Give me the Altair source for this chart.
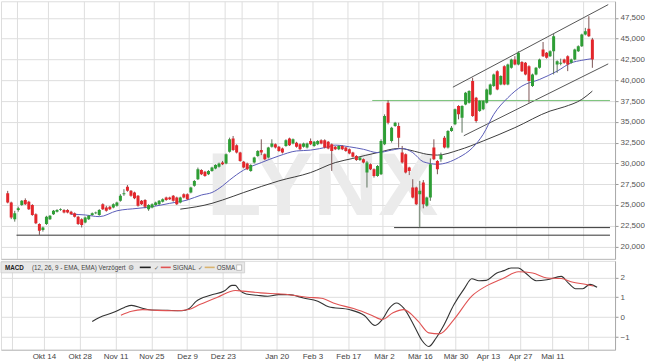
import json
import altair as alt
import pandas as pd

# ---------------- data ----------------
opens = [26.4, 25.3, 23.3, 24.4, 25.0, 25.6, 25.4, 25.0, 23.9, 22.7,
         22.0, 22.7, 23.3, 23.9, 24.2, 24.4, 24.4, 24.4, 24.2, 24.0,
         23.6, 23.3, 22.9, 23.3, 23.8, 24.0, 23.8, 25.1, 24.7, 24.8,
         24.7, 24.9, 25.5, 26.3, 27.2, 26.7, 26.5, 26.1, 25.5, 25.6,
         24.5, 24.7, 25.0, 25.1, 25.4, 25.9, 25.9, 26.1, 25.9, 25.3,
         26.3, 26.3, 26.5, 27.3, 28.1, 29.2, 29.0, 28.7, 29.1, 29.4,
         29.6, 30.1, 30.0, 31.4, 33.0, 32.2, 31.3, 30.2, 30.0, 29.1,
         30.1, 30.9, 31.6, 31.1, 30.7, 32.0, 32.3, 32.0, 31.8, 32.1,
         33.0, 32.4, 32.5, 32.3, 32.0, 31.9, 32.7, 32.1, 32.3, 32.8,
         32.8, 32.6, 32.3, 32.0, 31.7, 32.1, 31.9, 31.7, 31.3, 30.9,
         30.4, 30.5, 28.9, 29.9, 29.3, 28.5, 28.7, 32.3, 37.3, 32.7,
         34.5, 34.5, 31.3, 31.1, 29.5, 27.1, 27.1, 26.3, 27.7, 24.9,
         25.9, 31.9, 30.3, 30.5, 33.1, 31.9, 33.9, 34.7, 36.9, 35.5,
         37.1, 37.3, 39.9, 37.9, 36.3, 36.5, 37.3, 38.3, 39.3, 41.1,
         39.5, 41.7, 39.5, 41.5, 42.5, 41.9, 42.2, 42.1, 41.7, 39.3,
         40.7, 41.5, 43.7, 43.3, 42.9, 43.5, 41.9, 42.0, 42.5, 42.9,
         42.1, 42.5, 43.5, 44.1, 45.5, 46.2, 44.9]
closes = [25.3, 23.5, 24.0, 24.6, 25.5, 25.1, 24.5, 23.8, 22.8, 21.9,
          22.3, 23.6, 23.7, 24.3, 24.4, 24.5, 24.1, 24.1, 23.9, 23.6,
          22.7, 22.6, 23.5, 23.7, 24.0, 24.1, 24.4, 24.5, 24.3, 24.5,
          25.1, 25.3, 26.1, 26.4, 26.7, 26.1, 25.8, 24.9, 25.1, 24.8,
          25.0, 25.1, 25.3, 25.5, 25.7, 25.6, 25.7, 25.5, 25.1, 25.9,
          25.9, 25.7, 27.1, 27.9, 29.3, 28.7, 28.5, 29.1, 29.5, 29.8,
          30.0, 29.9, 31.1, 32.9, 31.6, 31.3, 30.3, 29.5, 29.3, 29.8,
          30.7, 31.5, 31.3, 30.5, 31.9, 32.4, 31.9, 31.5, 31.3, 32.8,
          32.2, 32.9, 32.0, 31.7, 32.4, 32.4, 32.3, 32.6, 32.7, 32.4,
          31.9, 31.8, 31.5, 31.7, 32.1, 31.7, 31.5, 31.2, 30.8, 30.4,
          30.7, 30.1, 30.1, 29.3, 28.5, 29.7, 32.7, 35.7, 34.9, 34.3,
          34.9, 33.1, 30.1, 28.9, 29.1, 25.9, 25.1, 26.7, 25.1, 25.9,
          29.9, 30.5, 29.3, 31.0, 31.9, 33.9, 34.3, 36.5, 35.9, 36.9,
          38.5, 38.7, 35.7, 35.1, 37.5, 37.5, 38.9, 39.5, 40.7, 38.9,
          40.5, 39.5, 41.9, 42.5, 41.9, 43.3, 41.1, 40.7, 39.9, 40.7,
          41.5, 42.5, 42.9, 42.7, 43.5, 45.3, 42.3, 42.1, 42.1, 41.9,
          42.5, 43.7, 44.1, 45.5, 45.9, 45.3, 42.5]
highs = [26.7, 25.4, 24.3, 24.8, 25.6, 25.8, 25.5, 25.1, 24.0, 22.8,
         22.4, 23.7, 23.8, 24.4, 24.5, 24.6, 24.5, 24.5, 24.3, 24.1,
         23.7, 23.4, 23.6, 23.8, 24.1, 24.2, 24.5, 25.2, 24.9, 24.9,
         25.2, 25.4, 26.3, 26.9, 27.4, 26.8, 26.6, 26.2, 25.6, 25.7,
         25.1, 25.2, 25.4, 25.6, 25.8, 26.0, 26.0, 26.2, 26.0, 26.0,
         26.4, 26.4, 27.2, 28.0, 29.5, 29.3, 29.1, 29.2, 29.6, 29.9,
         30.1, 30.3, 31.2, 33.1, 33.3, 32.3, 31.4, 30.3, 30.1, 29.9,
         30.8, 31.6, 32.9, 31.2, 32.0, 32.9, 32.4, 32.1, 31.9, 32.9,
         33.1, 33.0, 32.6, 32.4, 32.5, 32.5, 33.0, 32.7, 32.8, 32.9,
         32.9, 32.7, 32.4, 32.1, 32.2, 32.2, 32.0, 31.8, 31.4, 31.0,
         30.8, 30.6, 30.3, 30.0, 29.4, 29.8, 32.9, 35.9, 37.6, 34.4,
         35.0, 34.9, 32.1, 31.2, 29.6, 28.1, 27.2, 27.9, 28.0, 26.0,
         30.6, 32.9, 30.4, 31.3, 33.3, 34.0, 34.5, 36.6, 37.0, 37.0,
         38.6, 38.8, 40.3, 38.0, 37.6, 37.6, 39.0, 39.6, 40.8, 41.2,
         40.6, 41.8, 42.0, 42.6, 42.9, 43.5, 42.3, 42.2, 41.8, 40.8,
         41.6, 42.6, 44.6, 43.4, 43.6, 45.6, 42.4, 42.6, 42.6, 43.0,
         42.6, 43.8, 44.2, 45.6, 46.3, 47.7, 45.1]
lows = [25.2, 23.3, 23.0, 24.2, 24.9, 25.0, 24.4, 23.7, 22.7, 21.4,
        21.8, 22.6, 23.2, 23.8, 24.1, 24.3, 24.0, 24.0, 23.8, 23.5,
        22.6, 22.3, 22.8, 23.2, 23.7, 23.9, 23.7, 24.4, 24.2, 24.4,
        24.6, 24.8, 25.4, 26.1, 26.6, 26.0, 25.7, 24.8, 25.0, 24.6,
        24.3, 24.6, 24.9, 25.0, 25.3, 25.5, 25.6, 25.4, 25.0, 25.2,
        25.8, 25.6, 26.4, 27.2, 28.0, 28.6, 28.4, 28.6, 29.0, 29.3,
        29.5, 29.8, 29.9, 31.3, 31.5, 31.2, 30.2, 29.4, 29.2, 29.0,
        30.0, 30.8, 31.0, 30.4, 30.6, 31.9, 31.8, 31.4, 31.2, 32.0,
        32.1, 32.3, 31.9, 31.6, 31.9, 31.8, 32.2, 32.0, 32.2, 32.3,
        31.8, 31.7, 29.1, 31.6, 31.6, 31.6, 31.4, 31.1, 30.7, 30.3,
        30.3, 30.0, 27.1, 29.2, 28.3, 28.4, 28.6, 32.2, 34.7, 32.5,
        34.4, 31.9, 30.0, 28.8, 28.6, 25.8, 25.0, 22.3, 24.6, 24.8,
        25.5, 30.4, 28.7, 30.2, 31.8, 31.8, 33.8, 34.6, 35.3, 33.7,
        37.0, 37.2, 35.6, 34.9, 36.2, 36.4, 37.2, 38.2, 39.2, 38.8,
        39.4, 39.4, 39.4, 41.4, 41.8, 41.8, 41.0, 40.6, 37.3, 39.2,
        40.6, 41.4, 42.8, 42.6, 42.8, 40.7, 40.9, 41.8, 42.0, 41.1,
        42.0, 42.4, 43.4, 44.0, 45.4, 45.2, 41.5]

# moving averages (candle index, value)
ma_fast_k = [18, 22, 26, 31, 37, 41, 46, 51, 55, 58, 61, 63, 67, 72, 77, 82, 86, 91, 93, 97,
             101, 105, 109, 112, 115, 118, 122, 128, 132, 135, 138, 142, 146, 151, 156, 160, 163, 166]
ma_fast_v = [23.9, 23.8, 23.6, 24.3, 24.6, 24.8, 25.2, 25.6, 26.2, 26.5, 27.3, 28.0, 29.2, 30.1, 30.9,
             31.5, 31.6, 32.0, 32.2, 32.0, 31.7, 31.3, 31.6, 31.8, 31.3, 30.2, 29.9, 30.7, 31.9, 33.5,
             35.9, 37.9, 39.3, 40.1, 41.1, 42.1, 42.4, 42.6]
ma_slow_k = [49, 58, 61, 67, 77, 86, 93, 98, 105, 111, 117, 119, 122, 128, 135, 144, 154, 158, 163, 166]
ma_slow_v = [24.5, 25.2, 25.6, 26.5, 27.9, 28.9, 30.1, 30.6, 31.3, 31.8, 31.3, 31.1, 31.0, 31.6,
             32.7, 34.3, 36.3, 36.8, 37.7, 38.7]

# MACD panel
macd_k = [25, 27, 31, 34, 36, 39, 41, 46, 50, 52, 54, 58, 62, 64, 65, 66, 68, 71, 74, 77, 80, 84,
          88, 91, 97, 101, 104, 106, 108, 110, 112, 115, 117, 119, 121, 123, 126, 129, 131, 133,
          135, 138, 140, 142, 144, 146, 149, 152, 156, 158, 160, 162, 164, 166]
macd_v = [-0.22, -0.02, 0.24, 0.49, 0.59, 0.45, 0.37, 0.34, 0.32, 0.42, 0.79, 1.1, 1.33, 1.6, 1.6,
          1.38, 1.16, 1.1, 1.05, 1.13, 1.13, 0.96, 0.8, 0.52, 0.37, 0.08, -0.42, -0.13, 0.45, 0.71,
          0.45, -0.47, -1.15, -1.48, -1.06, -0.47, 0.62, 1.46, 1.93, 1.83, 1.85, 2.22, 2.34, 2.47,
          2.47, 2.22, 1.83, 1.88, 2.05, 1.71, 1.43, 1.43, 1.65, 1.5]
signal_k = [33, 36, 39, 43, 48, 52, 55, 60, 65, 67, 72, 77, 80, 85, 89, 93, 98, 103, 106, 109, 112,
            116, 119, 122, 126, 131, 135, 140, 144, 148, 152, 156, 159, 163, 165]
signal_v = [0.1, 0.3, 0.38, 0.34, 0.32, 0.38, 0.63, 1.0, 1.34, 1.31, 1.22, 1.17, 1.13, 1.0, 0.95,
            0.67, 0.43, 0.1, -0.12, 0.22, 0.38, -0.2, -0.79, -0.84, -0.12, 1.06, 1.56, 1.97, 2.28,
            2.22, 1.97, 1.94, 1.77, 1.64, 1.56]

# drawn lines: (id, colour, start k, start value, end k, end value)
drawn_id = ["upper", "lower", "sup1", "sup2", "res"]
drawn_col = ["#555555", "#555555", "#333333", "#333333", "#7cc47c"]
drawn_k0 = [126.4, 129.5, 2.5, 109.7, 103.5]
drawn_v0 = [39.17, 33.33, 21.37, 22.28, 37.57]
drawn_k1 = [170.5, 170.5, 171.0, 171.0, 171.0]
drawn_v1 = [49.1, 41.97, 21.37, 22.28, 37.57]

# axes
tick_k = [2.5, 11.5, 21.5, 31.5, 41.5, 51.5, 61.5, 66.5, 76.5, 86.5, 96.5, 106.5, 116.5,
          126.5, 135.5, 144.5, 153.5, 163.5]
tick_labels = ["", "Okt 14", "Okt 28", "Nov 11", "Nov 25", "Dez 9", "Dez 23", "", "Jan 20",
               "Feb 3", "Feb 17", "Mär 2", "Mär 16", "Mär 30", "Apr 13", "Apr 27", "Mai 11", ""]
price_ticks = [20, 22.5, 25, 27.5, 30, 32.5, 35, 37.5, 40, 42.5, 45, 47.5]
macd_ticks = [-1, 0, 1, 2]

# ---------------- tables ----------------
candles = pd.DataFrame({"k": list(range(len(opens))), "open": opens, "high": highs,
                        "low": lows, "close": closes})
ma_fast = pd.DataFrame({"k": ma_fast_k, "v": ma_fast_v})
ma_slow = pd.DataFrame({"k": ma_slow_k, "v": ma_slow_v})
macd = pd.DataFrame({"k": macd_k, "v": macd_v})
signal = pd.DataFrame({"k": signal_k, "v": signal_v})
rows = []
for i in range(len(drawn_id)):
    rows.append({"id": drawn_id[i], "col": drawn_col[i], "k": drawn_k0[i], "v": drawn_v0[i]})
    rows.append({"id": drawn_id[i], "col": drawn_col[i], "k": drawn_k1[i], "v": drawn_v1[i]})
drawn = pd.DataFrame(rows)
one = pd.DataFrame({"a": [0]})

W = 615
X_DOM = [-0.484, 171.02]
xs = alt.Scale(domain=X_DOM, nice=False, zero=False)
ys = alt.Scale(domain=[18.52, 49.5], nice=False, zero=False)
ms = alt.Scale(domain=[-1.64, 2.83], nice=False, zero=False)

GRID = "#dedede"
FONT = "Liberation Sans"
label_expr = "%s[indexof(%s, datum.value)]" % (json.dumps(tick_labels, ensure_ascii=False),
                                                json.dumps(tick_k))

top_x_axis = alt.Axis(values=tick_k, labels=False, ticks=False, grid=True, gridColor=GRID,
                      domain=True, domainColor="#bdbdbd", title=None)
top_y_axis = alt.Axis(orient="right", values=price_ticks, grid=True, gridColor=GRID,
                      labelExpr="replace(format(datum.value, ',.3f'), '.', ',')",
                      labelOverlap=False, tickSize=3, tickColor="#999999",
                      domainColor="#aaaaaa", labelFontSize=8, labelColor="#555555",
                      labelPadding=2, title=None)

X = alt.X("k:Q", scale=xs, axis=top_x_axis, title=None)


def Y(field):
    return alt.Y(field, scale=ys, axis=top_y_axis, title=None)


watermark = alt.Chart(one).mark_text(
    text="LYNX", fontSize=90, fontWeight="bold", color="#ebebeb", font=FONT,
    align="center", baseline="alphabetic"
).encode(x=alt.value(322), y=alt.value(214))

drawn_lines = alt.Chart(drawn).mark_line(strokeWidth=1, clip=True).encode(
    x=X, y=Y("v:Q"), detail="id:N", color=alt.Color("col:N", scale=None))

fast_line = alt.Chart(ma_fast).mark_line(color="#5a5cb8", strokeWidth=1.0,
                                         interpolate="monotone").encode(x=X, y=Y("v:Q"))
slow_line = alt.Chart(ma_slow).mark_line(color="#3d3d3d", strokeWidth=1.0,
                                         interpolate="monotone").encode(x=X, y=Y("v:Q"))

up_cond = "datum.open <= datum.close"
wicks = alt.Chart(candles).mark_rule(strokeWidth=1, clip=True).encode(
    x=X, y=Y("low:Q"), y2="high:Q",
    color=alt.condition(up_cond, alt.value("#5d735d"), alt.value("#7d5555")))
bodies = alt.Chart(candles).mark_bar(size=3, clip=True).encode(
    x=X, y=Y("open:Q"), y2="close:Q",
    color=alt.condition(up_cond, alt.value("#2e9e35"), alt.value("#e3262b")))

top = alt.layer(watermark, drawn_lines, slow_line, fast_line, wicks, bodies
                ).properties(width=W, height=258)

# ---------------- MACD panel ----------------
bot_x_axis = alt.Axis(values=tick_k, labelExpr=label_expr, grid=True, gridColor=GRID,
                      ticks=False, domain=True, domainColor="#bdbdbd", labelFontSize=8,
                      labelColor="#444444", labelPadding=3, labelOverlap=False, title=None)
bot_y_axis = alt.Axis(orient="right", values=macd_ticks, format="d", grid=True, gridColor=GRID,
                      labelOverlap=False, tickSize=3, tickColor="#999999",
                      domainColor="#aaaaaa", labelFontSize=8, labelColor="#555555",
                      labelPadding=2, title=None)
XB = alt.X("k:Q", scale=xs, axis=bot_x_axis, title=None)
YB = alt.Y("v:Q", scale=ms, axis=bot_y_axis, title=None)

macd_line = alt.Chart(macd).mark_line(color="#333333", strokeWidth=1.1,
                                      interpolate="monotone").encode(x=XB, y=YB)
signal_line = alt.Chart(signal).mark_line(color="#e05353", strokeWidth=1.1,
                                          interpolate="monotone").encode(x=XB, y=YB)

legend_box = alt.Chart(one).mark_rect(fill="#e8e8e8", stroke="#cccccc", strokeWidth=0.8).encode(
    x=alt.value(0), x2=alt.value(244), y=alt.value(1), y2=alt.value(12))


def legend_text(txt, x, bold=False, color="#333333", size=6.3):
    return alt.Chart(one).mark_text(text=txt, fontSize=size, font=FONT,
                                    fontWeight="bold" if bold else "normal", color=color,
                                    align="left", baseline="middle").encode(
        x=alt.value(x), y=alt.value(6.8))


def legend_rule(x0, x1, color, w=1.6):
    return alt.Chart(one).mark_rule(color=color, strokeWidth=w).encode(
        x=alt.value(x0), x2=alt.value(x1), y=alt.value(6.5))


checkbox = alt.Chart(one).mark_rect(fill="#ffffff", stroke="#aaaaaa", strokeWidth=0.7).encode(
    x=alt.value(236), x2=alt.value(241), y=alt.value(4), y2=alt.value(9.5))

legend_layers = [
    legend_box,
    legend_text("MACD", 4, bold=True, color="#222222"),
    legend_text("(12, 26, 9 - EMA, EMA) Verzögert", 31, color="#444444"),
    legend_text("\u2699", 127, color="#777777", size=7),
    legend_rule(139, 150, "#222222"),
    legend_text("\u2713", 153, color="#666666"),
    legend_rule(160, 170, "#e05353"),
    legend_text("SIGNAL", 172, color="#444444"),
    legend_text("\u2713", 197, color="#666666"),
    legend_rule(204, 214, "#d9b36f"),
    legend_text("OSMA", 216, color="#444444"),
    checkbox,
]

bottom = alt.layer(macd_line, signal_line, *legend_layers).properties(width=W, height=89)

chart = alt.vconcat(top, bottom, spacing=0).properties(
    padding={"left": 0, "top": 0, "right": 0, "bottom": 0}
).configure_view(stroke=None).configure_axis(labelFont=FONT).configure(background="white")

chart.save("out.html", embed_options={"renderer": "svg", "actions": False})
